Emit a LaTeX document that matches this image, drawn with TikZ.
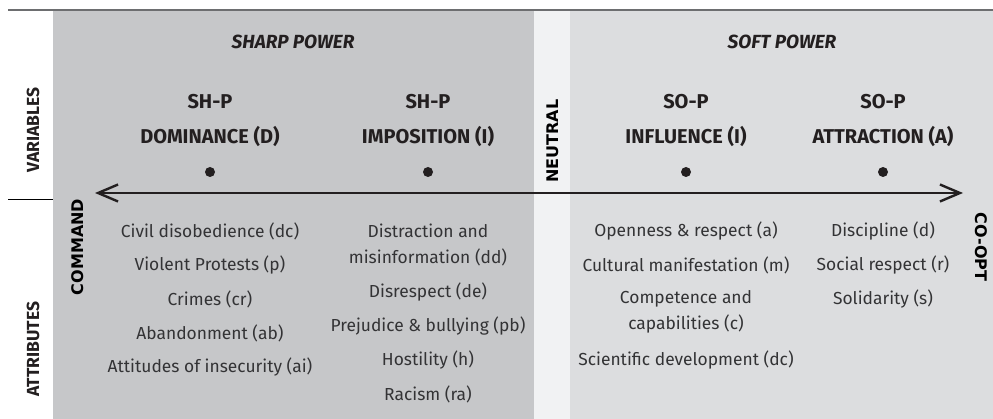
\documentclass[tikz,border=0pt]{standalone}
\usepackage{fontspec}
\setmainfont{Fira Sans}
\newfontfamily\polefont{DejaVu Sans}
\usetikzlibrary{arrows.meta}
\definecolor{sharpbg}{HTML}{C6C7C9}
\definecolor{neutralbg}{HTML}{F1F2F3}
\definecolor{softbg}{HTML}{DCDDDF}
\definecolor{ink}{HTML}{231F20}
\definecolor{bodyink}{HTML}{333335}
\definecolor{rulegrey}{HTML}{6D6E70}
\begin{document}
\begin{tikzpicture}[x=1pt,y=-1pt,
  powerhead/.style={font=\fontsize{19}{22}\selectfont\bfseries\itshape, text=ink},
  varhead/.style={font=\fontsize{20}{35}\selectfont\bfseries, text=ink, align=center},
  attrtext/.style={font=\fontsize{17.4}{26}\selectfont, text=bodyink, align=center},
  sidehead/.style={font=\fontsize{17.5}{20}\selectfont\bfseries, text=ink, rotate=90},
  poletext/.style={font=\polefont\fontsize{16}{18}\selectfont\bfseries, text=black},
  dotmark/.style={circle, fill=ink, inner sep=0pt, minimum size=10pt},
  axisline/.style={line width=2.8pt, draw=ink, {Straight Barb[length=20pt,width=17pt,line width=2.4pt]}-{Straight Barb[length=20pt,width=17pt,line width=2.4pt]}}
]
\useasboundingbox (0,0) rectangle (993,419);

% background bands
\fill[sharpbg] (53,10) rectangle (534,419);
\fill[neutralbg] (534,10) rectangle (570,419);
\fill[softbg] (570,10) rectangle (993,419);

% rules
\draw[rulegrey, line width=1.3pt] (8,10) -- (993,10);
\draw[black, line width=0.8pt] (8,199) -- (53,199);

% row headers
\node[sidehead] (variables) at (33,130) {VARIABLES};
\node[sidehead] (attributes) at (33,349) {ATTRIBUTES};

% power groups
\node[powerhead] (sharp) at (293,42) {SHARP POWER};
\node[powerhead] (soft) at (782,42) {SOFT POWER};

% variables
\node[varhead] (vD) at (210,120) {SH-P\\DOMINANCE (D)};
\node[varhead] (vI) at (428,120) {SH-P\\IMPOSITION (I)};
\node[varhead] (vF) at (686,120) {SO-P\\INFLUENCE (I)};
\node[varhead] (vA) at (883,120) {SO-P\\ATTRACTION (A)};

\node[dotmark] (dD) at (210,172) {};
\node[dotmark] (dI) at (428,172) {};
\node[dotmark] (dF) at (686,172) {};
\node[dotmark] (dA) at (883,172) {};

\node[poletext, rotate=90] (neutral) at (553,141) {NEUTRAL};
\node[poletext, rotate=90] (command) at (78,247) {COMMAND};
\node[poletext, rotate=-90] (coopt) at (981,247) {CO-OPT};

% axis
\coordinate (axL) at (95,193);
\coordinate (axR) at (963,193);
\draw[axisline] (axL) -- (axR);

% attributes of dominance
\node[attrtext] (a1) at (210,231) {Civil disobedience (dc)};
\node[attrtext] (a2) at (210,265) {Violent Protests (p)};
\node[attrtext] (a3) at (210,299) {Crimes (cr)};
\node[attrtext] (a4) at (210,333) {Abandonment (ab)};
\node[attrtext] (a5) at (210,367) {Attitudes of insecurity (ai)};

% attributes of imposition
\node[attrtext] (b1) at (428,245) {Distraction and\\misinformation (dd)};
\node[attrtext] (b2) at (428,292) {Disrespect (de)};
\node[attrtext] (b3) at (428,326) {Prejudice \& bullying (pb)};
\node[attrtext] (b4) at (428,360) {Hostility (h)};
\node[attrtext] (b5) at (428,394) {Racism (ra)};

% attributes of influence
\node[attrtext] (c1) at (686,231) {Openness \& respect (a)};
\node[attrtext] (c2) at (686,265) {Cultural manifestation (m)};
\node[attrtext] (c3) at (686,312) {Competence and\\capabilities (c)};
\node[attrtext] (c4) at (686,360) {Scientific development (dc)};

% attributes of attraction
\node[attrtext] (e1) at (883,231) {Discipline (d)};
\node[attrtext] (e2) at (883,265) {Social respect (r)};
\node[attrtext] (e3) at (883,299) {Solidarity (s)};
\end{tikzpicture}
\end{document}
